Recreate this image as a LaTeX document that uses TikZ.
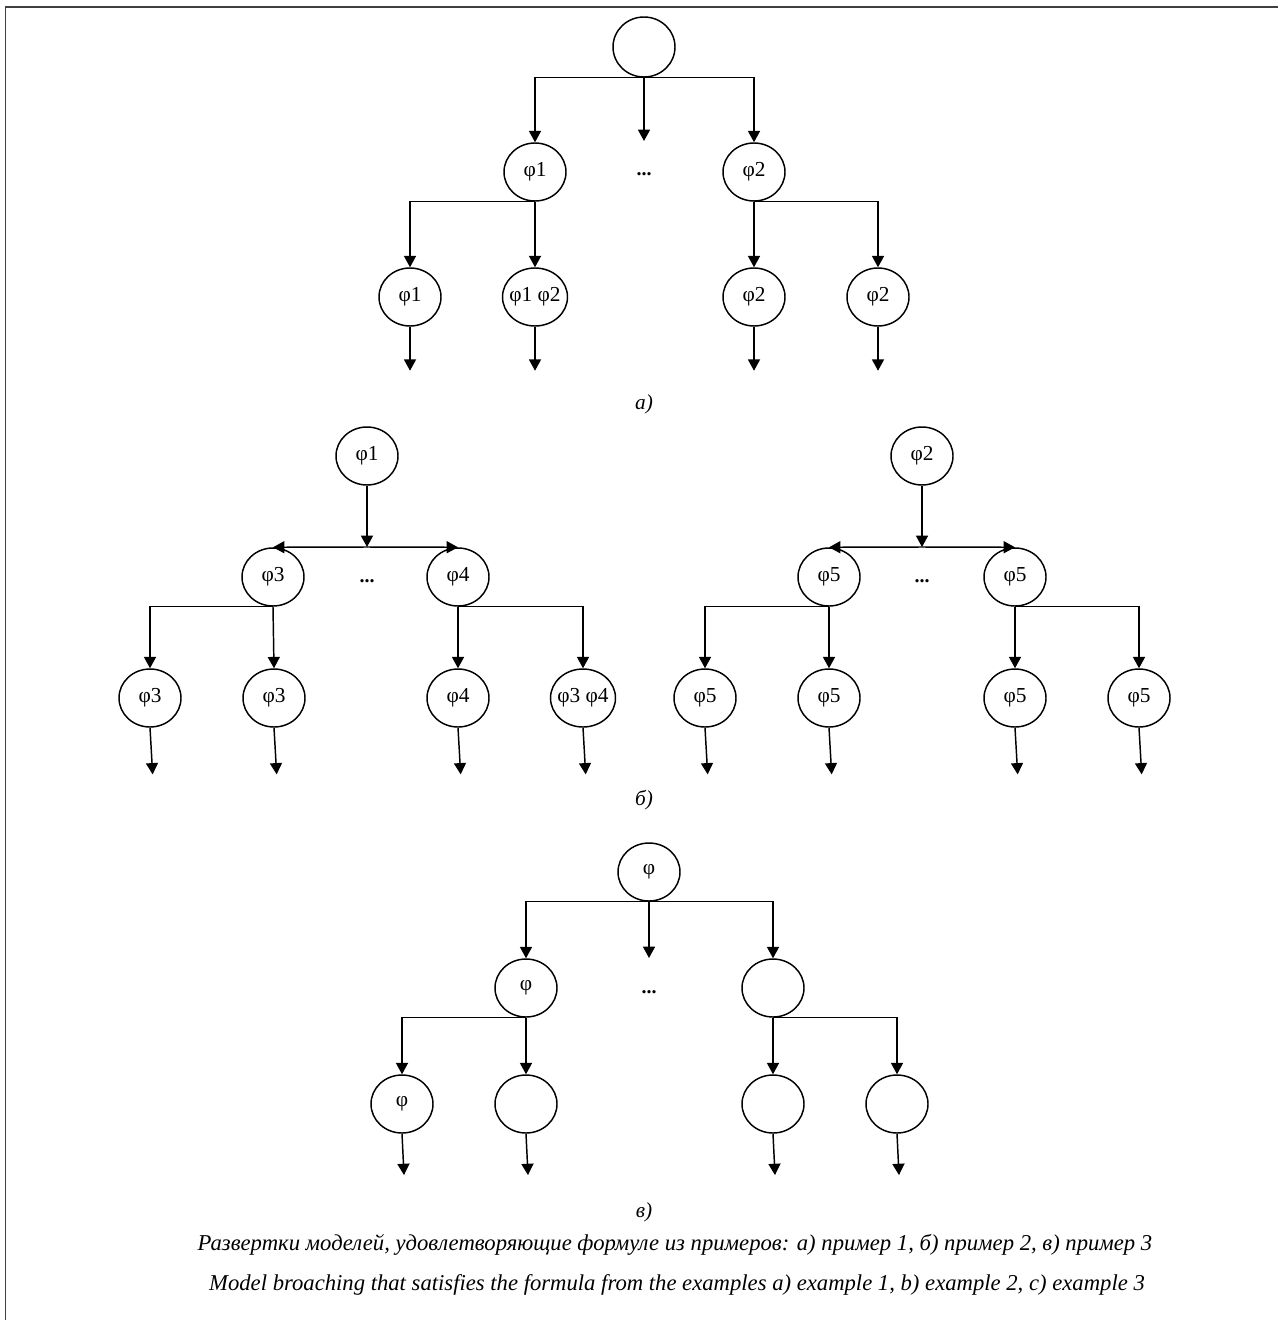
\documentclass[tikz,border=0pt]{standalone}
\usepackage{fontspec}
\setmainfont{Liberation Serif}
\usetikzlibrary{shapes.geometric,arrows.meta}
\begin{document}
\begin{tikzpicture}[x={(0.75pt,0)},y={(0,-0.75pt)},
  state/.style={draw,ellipse,line width=1.1pt,minimum width=46.5pt,minimum height=43.5pt,inner sep=0pt,
    font=\fontsize{16pt}{19pt}\selectfont},
  widestate/.style={state,inner xsep=-2pt},
  arr/.style={line width=1.1pt,-{Triangle[length=8.5pt,width=9pt]}},
  dotsym/.style={font=\fontsize{15pt}{18pt}\selectfont\bfseries},
  captxt/.style={font=\fontsize{16pt}{19pt}\selectfont\itshape},
  longcap/.style={font=\fontsize{17pt}{20pt}\selectfont\itshape},
  pageframe/.style={line width=1pt,draw=black!75}]
\useasboundingbox (0,0) rectangle (1278,1320);
% page frame (top and left edges)
\draw[pageframe] (5.5,1320) -- (5.5,7) -- (1278,7);

% ---------- a) ----------
\node[state,minimum height=45pt] (a0) at (644,47) {};
\node[state] (a1) at (535,172) {φ1};
\node[state] (a2) at (754,172) {φ2};
\node[dotsym] (ad) at (644,174) {...};
\coordinate (am) at (644,141);
\draw[arr] (a0.south) -| (a1.north);
\draw[arr] (a0.south) -| (a2.north);
\draw[arr] (a0.south) -- (am);
\node[state] (a11) at (410,297) {φ1};
\node[widestate] (a12) at (535,297) {φ1 φ2};
\node[state] (a21) at (754,297) {φ2};
\node[state] (a22) at (878,297) {φ2};
\draw[arr] (a1.south) -| (a11.north);
\draw[arr] (a1.south) -- (a12.north);
\draw[arr] (a2.south) -- (a21.north);
\draw[arr] (a2.south) -| (a22.north);
\foreach \n in {a11,a12,a21,a22} {
  \coordinate (\n e) at ([yshift=-33pt]\n.south);
  \draw[arr] (\n.south) -- (\n e);
}
\node[captxt] (capa) at (644,404) {а)};

% ---------- б) left ----------
\node[state] (b1) at (367,456) {φ1};
\coordinate (bj) at (367,547);
\node[state] (b3) at (273,577) {φ3};
\node[state] (b4) at (458,577) {φ4};
\node[dotsym] (bd) at (367,581) {...};
\draw[arr] (b1.south) -- (bj);
\draw[arr] (bj) -- (b3.north);
\draw[arr] (bj) -- (b4.north);
\node[state] (b31) at (150,698) {φ3};
\node[state] (b32) at (274,698) {φ3};
\node[state] (b41) at (458,698) {φ4};
\node[widestate] (b42) at (583,698) {φ3 φ4};
\draw[arr] (b3.south) -| (b31.north);
\draw[arr] (b3.south) -- (b32.north);
\draw[arr] (b4.south) -- (b41.north);
\draw[arr] (b4.south) -| (b42.north);

% ---------- б) right ----------
\node[state] (c1) at (922,456) {φ2};
\coordinate (cj) at (922,547);
\node[state] (c3) at (829,577) {φ5};
\node[state] (c4) at (1015,577) {φ5};
\node[dotsym] (cd) at (922,581) {...};
\draw[arr] (c1.south) -- (cj);
\draw[arr] (cj) -- (c3.north);
\draw[arr] (cj) -- (c4.north);
\node[state] (c31) at (705,698) {φ5};
\node[state] (c32) at (829,698) {φ5};
\node[state] (c41) at (1015,698) {φ5};
\node[state] (c42) at (1139,698) {φ5};
\draw[arr] (c3.south) -| (c31.north);
\draw[arr] (c3.south) -- (c32.north);
\draw[arr] (c4.south) -- (c41.north);
\draw[arr] (c4.south) -| (c42.north);
\foreach \n in {b31,b32,b41,b42,c31,c32,c41,c42} {
  \coordinate (\n e) at ([xshift=2pt,yshift=-35pt]\n.south);
  \draw[arr] (\n.south) -- (\n e);
}
\node[captxt] (capb) at (644,800) {б)};

% ---------- в) ----------
\node[state] (d0) at (649,872) {φ};
\node[state] (d1) at (526,988) {φ};
\node[state] (d2) at (773,988) {};
\node[dotsym] (dd) at (649,992) {...};
\coordinate (dm) at (649,958);
\draw[arr] (d0.south) -| (d1.north);
\draw[arr] (d0.south) -| (d2.north);
\draw[arr] (d0.south) -- (dm);
\node[state] (d11) at (402,1104) {φ};
\node[state] (d12) at (526,1104) {};
\node[state] (d21) at (773,1104) {};
\node[state] (d22) at (897,1104) {};
\draw[arr] (d1.south) -| (d11.north);
\draw[arr] (d1.south) -- (d12.north);
\draw[arr] (d2.south) -- (d21.north);
\draw[arr] (d2.south) -| (d22.north);
\foreach \n in {d11,d12,d21,d22} {
  \coordinate (\n e) at ([xshift=1.5pt,yshift=-31pt]\n.south);
  \draw[arr] (\n.south) -- (\n e);
}
\node[captxt] (capc) at (644,1212) {в)};

% ---------- captions ----------
\node[longcap] (ru) at (675,1245) {Развертки моделей, удовлетворяющие формуле из примеров: а) пример 1, б) пример 2, в) пример 3};
\node[longcap] (en) at (677,1285) {Model broaching that satisfies the formula from the examples a) example 1, b) example 2, c) example 3};
\end{tikzpicture}
\end{document}
